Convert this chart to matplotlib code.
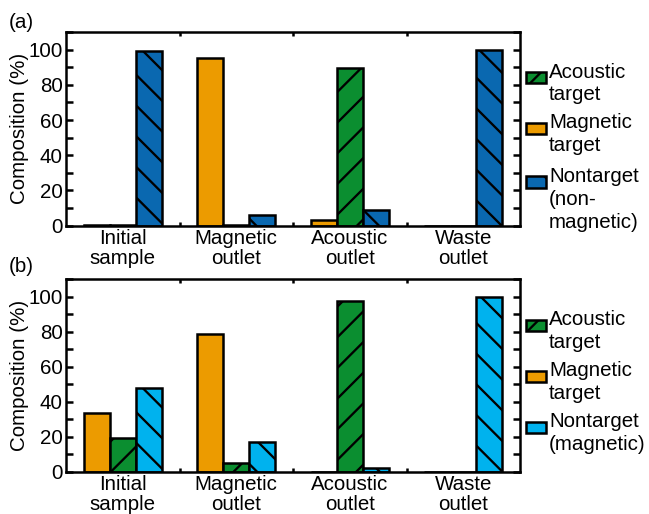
import numpy as np
import matplotlib
matplotlib.use("Agg")
import matplotlib.pyplot as plt
from matplotlib.patches import Rectangle
from matplotlib.ticker import MultipleLocator, FixedLocator

W, H = 649, 514
DPI = 92  # low dpi so the hatch lines come out as widely spaced as in the original


def P(pixels):
    # pixel size -> points
    return pixels * 72.0 / DPI


plt.rcParams['font.family'] = ['Liberation Sans', 'DejaVu Sans']
plt.rcParams['hatch.linewidth'] = P(2.3)
plt.rcParams['hatch.color'] = 'black'

# data
groups = ["Initial\nsample", "Magnetic\noutlet", "Acoustic\noutlet", "Waste\noutlet"]

a_magnetic = [0.5, 95.3, 3.0, 0.0]
a_acoustic = [0.5, 0.3, 89.6, 0.0]
a_nontarget = [99.0, 6.0, 8.9, 100.0]

b_magnetic = [33.7, 78.7, 0.0, 0.0]
b_acoustic = [19.4, 4.8, 97.7, 0.0]
b_nontarget = [47.6, 17.1, 1.9, 100.0]

c_orange = '#EC9B00'
c_green = '#0B8E30'
c_blue = '#0A68B0'
c_cyan = '#00B2EE'

fig = plt.figure(figsize=(W / DPI, H / DPI), dpi=DPI)

FS = P(20.5)
LW = P(2.5)


def draw_panel(ax, mag, aco, non, ncolor):
    x = np.arange(len(groups))
    w = 0.23
    kw = dict(width=w, edgecolor='black', linewidth=LW, zorder=2)
    ax.bar(x - w, mag, color=c_orange, **kw)
    ax.bar(x, aco, color=c_green, hatch='/', **kw)
    ax.bar(x + w, non, color=ncolor, hatch='\\', **kw)
    ax.set_xlim(-0.5, 3.5)
    ax.set_ylim(0, 110)
    ax.set_xticks(x)
    ax.set_xticklabels(groups, fontsize=FS, linespacing=1.1)
    ax.xaxis.set_minor_locator(FixedLocator([0.5, 1.5, 2.5]))
    ax.yaxis.set_major_locator(MultipleLocator(20))
    ax.yaxis.set_minor_locator(MultipleLocator(10))
    ax.tick_params(axis='x', which='major', length=0, pad=P(3))
    ax.tick_params(axis='x', which='minor', direction='in', length=P(4),
                   width=LW, top=True, bottom=True)
    ax.tick_params(axis='y', which='both', direction='in', right=True,
                   width=LW, labelsize=FS, pad=P(3), length=P(6.5))
    for s in ax.spines.values():
        s.set_linewidth(LW)
    ax.set_ylabel("Composition (%)", fontsize=FS, labelpad=P(0))


def px(xp, yp):
    return xp / W, 1 - yp / H


def draw_legend(centers, labels, colors, hatches):
    for yc, lab, col, hat in zip(centers, labels, colors, hatches):
        x0, y0 = px(525.5, yc + 5.5)
        r = Rectangle((x0, y0), 20.5 / W, 11 / H, transform=fig.transFigure,
                      facecolor=col, edgecolor='black', linewidth=LW,
                      hatch=hat, figure=fig)
        fig.patches.append(r)
        tx, ty = px(549, yc - 15)
        fig.text(tx, ty, lab, fontsize=FS, va='top', ha='left',
                 linespacing=1.25)


ax1 = fig.add_axes([66 / W, 1 - 225.7 / H, 454 / W, 193.7 / H])
draw_panel(ax1, a_magnetic, a_acoustic, a_nontarget, c_blue)
ax2 = fig.add_axes([66 / W, 1 - 471.7 / H, 454 / W, 192.7 / H])
draw_panel(ax2, b_magnetic, b_acoustic, b_nontarget, c_cyan)

draw_legend([77.5, 128.5, 182],
            ["Acoustic\ntarget", "Magnetic\ntarget", "Nontarget\n(non-\nmagnetic)"],
            [c_green, c_orange, c_blue], ['/', '', '\\'])
draw_legend([325, 376, 427],
            ["Acoustic\ntarget", "Magnetic\ntarget", "Nontarget\n(magnetic)"],
            [c_green, c_orange, c_cyan], ['/', '', '\\'])

fig.text(*px(9, 22), "(a)", fontsize=FS, va='center', ha='left')
fig.text(*px(9, 266), "(b)", fontsize=FS, va='center', ha='left')

fig.savefig("out.png", dpi=DPI)
